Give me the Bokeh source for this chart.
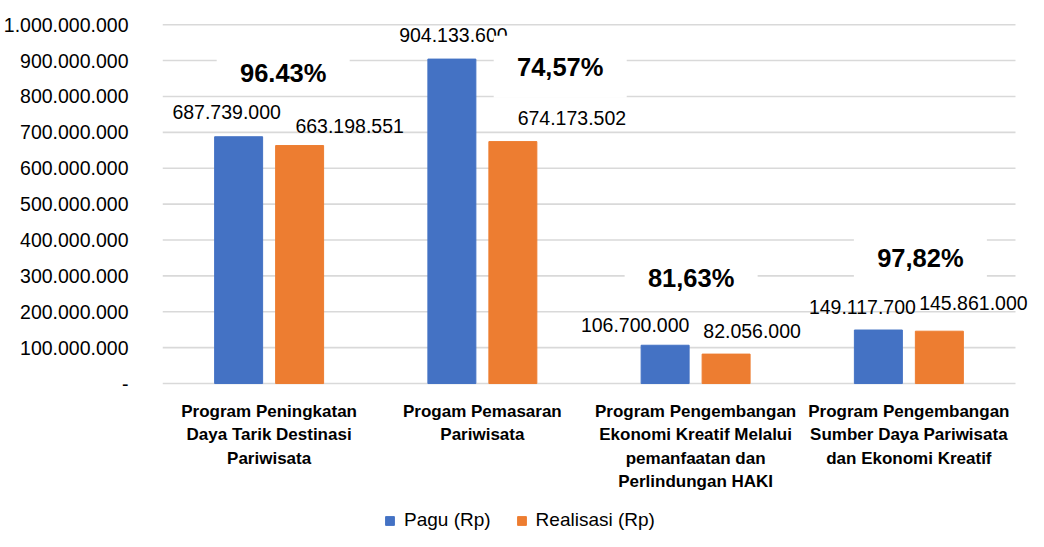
from bokeh.plotting import figure
from bokeh.models import ColumnDataSource, Range1d, FixedTicker, Legend, LegendItem, LabelSet
from bokeh.core.properties import value
from bokeh.embed import file_html
from bokeh.resources import INLINE

# ---- data ----
categories = [
    "Program Peningkatan\nDaya Tarik Destinasi\nPariwisata",
    "Progam Pemasaran\nPariwisata",
    "Program Pengembangan\nEkonomi Kreatif Melalui\npemanfaatan dan\nPerlindungan HAKI",
    "Program Pengembangan\nSumber Daya Pariwisata\ndan Ekonomi Kreatif",
]
pagu = [687739000, 904133600, 106700000, 149117700]
realisasi = [663198551, 674173502, 82056000, 145861000]
percent_labels = ["96.43%", "74,57%", "81,63%", "97,82%"]
tick_values = [0, 100000000, 200000000, 300000000, 400000000, 500000000,
               600000000, 700000000, 800000000, 900000000, 1000000000]
tick_labels = ["-", "100.000.000", "200.000.000", "300.000.000", "400.000.000",
               "500.000.000", "600.000.000", "700.000.000", "800.000.000",
               "900.000.000", "1.000.000.000"]

# ---- label layout (annotation placement, px / data) ----
pagu_lbl_dx = [-12, 1.5, -30, -16]
pagu_lbl_dy = [-25, -24, -20, -23]
real_lbl_dx = [50, 59, 26, 34]
real_lbl_dy = [-20, -24, -23, -28]
pct_x_shift = [0.066, 0.365, -0.021, 0.054]
pct_y = [866e6, 883e6, 295e6, 351e6]
pct_box_h = [44, 62, 44, 44]

FONT = value("Liberation Sans")
BLUE = "#4472C4"
ORANGE = "#ED7D31"
GRID = "#d9d9d9"

n = len(categories)
centers = [i + 0.5 for i in range(n)]
off = 0.143
bw = 0.225

def fmt(v):
    return f"{v:,}".replace(",", ".")

p = figure(width=1028, height=531,
           x_range=Range1d(0, n + 0.061), y_range=Range1d(-412.3e6, 1.02e9),
           output_backend="svg", toolbar_location=None,
           min_border_left=161, min_border_right=0,
           min_border_top=17, min_border_bottom=0)
p.outline_line_color = None
p.background_fill_color = "white"
p.border_fill_color = "white"
p.xaxis.visible = False
p.xgrid.visible = False
p.ygrid.visible = False

ax = p.yaxis[0]
ax.ticker = FixedTicker(ticks=tick_values)
ax.major_label_overrides = dict(zip(tick_values, tick_labels))
ax.axis_line_color = None
ax.major_tick_line_color = None
ax.minor_tick_line_color = None
ax.major_label_standoff = 28
ax.major_label_text_font = "Liberation Sans"
ax.major_label_text_font_size = "19.5px"
ax.major_label_text_color = "#000000"

# horizontal gridlines over the category span
p.segment(x0=[0] * len(tick_values), x1=[n] * len(tick_values),
          y0=tick_values, y1=tick_values, line_color=GRID, line_width=1.6,
          level="underlay")

src = ColumnDataSource(dict(
    xb=[c - off for c in centers], xo=[c + off for c in centers],
    pagu=pagu, real=realisasi,
))
r1 = p.vbar(x="xb", top="pagu", width=bw, source=src, fill_color=BLUE, line_color=BLUE)
r2 = p.vbar(x="xo", top="real", width=bw, source=src, fill_color=ORANGE, line_color=ORANGE)

vl = ColumnDataSource(dict(
    x=[c - off for c in centers] + [c + off for c in centers],
    y=pagu + realisasi,
    t=[fmt(v) for v in pagu] + [fmt(v) for v in realisasi],
    dx=pagu_lbl_dx + real_lbl_dx,
    dy=[-d for d in pagu_lbl_dy + real_lbl_dy],
))
labels = LabelSet(x="x", y="y", text="t", x_offset="dx", y_offset="dy", source=vl,
                  text_font=FONT, text_font_size="19.5px", text_color="#000000",
                  text_align="center", text_baseline="middle")
p.add_layout(labels)

ps = ColumnDataSource(dict(
    x=[c + s for c, s in zip(centers, pct_x_shift)], y=pct_y,
    t=percent_labels, h=pct_box_h, w=[133] * n,
))
p.rect(x="x", y="y", width="w", height="h", width_units="screen", height_units="screen",
       source=ps, fill_color="white", line_color=None, level="overlay")
pct = LabelSet(x="x", y="y", text="t", source=ps, text_font=FONT,
               text_font_size="25.5px", text_font_style="bold", text_color="#000000",
               text_align="center", text_baseline="middle", level="overlay")
p.add_layout(pct)

cs = ColumnDataSource(dict(x=centers, y=[0] * n, t=categories))
p.text(x="x", y="y", text="t", source=cs, y_offset=18, text_font=FONT,
       text_font_size="17px", text_font_style="bold", text_color="#000000",
       text_align="center", text_baseline="top", text_line_height=1.24)

legend = Legend(items=[LegendItem(label="Pagu (Rp)", renderers=[r1]),
                       LegendItem(label="Realisasi (Rp)", renderers=[r2])],
                orientation="horizontal", location=(222, 0))
legend.padding = 0
legend.margin = 0
legend.border_line_color = None
legend.background_fill_alpha = 0
legend.glyph_width = 11
legend.glyph_height = 11
legend.label_standoff = 9
legend.spacing = 25
legend.label_height = 20
legend.label_text_font = "Liberation Sans"
legend.label_text_font_size = "19px"
legend.label_text_color = "#000000"
legend.label_text_baseline = "middle"
p.add_layout(legend)

open("out.html", "w").write(file_html(p, INLINE))
